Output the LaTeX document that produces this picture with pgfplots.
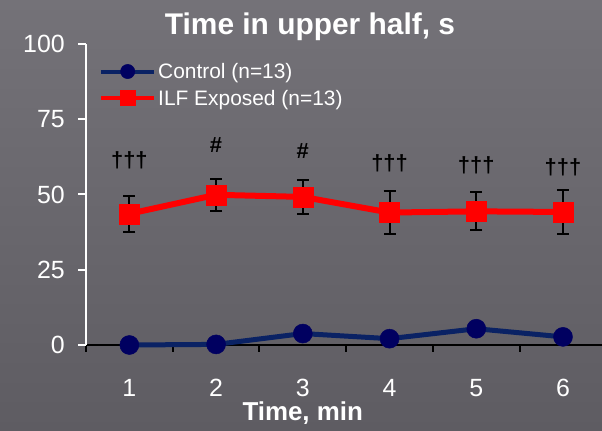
\documentclass[border=0pt]{standalone}
\usepackage{pgfplots}
\pgfplotsset{compat=1.18}
\usepackage{fontspec}
\setmainfont{Liberation Sans}
\definecolor{bgA}{RGB}{116,114,120}
\definecolor{bgB}{RGB}{94,92,98}
\definecolor{ctrlLine}{RGB}{10,34,100}
\definecolor{ctrlFill}{RGB}{0,0,96}
\begin{document}
\begin{tikzpicture}
\shade[shading angle=30, top color=bgA, bottom color=bgB] (0,0) rectangle (602bp,431bp);
\begin{axis}[
  at={(86bp,86bp)}, anchor=south west,
  scale only axis, width=516bp, height=301bp,
  xmin=0.5, xmax=6.45, ymin=0, ymax=100,
  clip=false,
  axis x line=bottom, axis y line=left,
  x axis line style={black, line width=2.5bp, -},
  y axis line style={white, line width=2.5bp, -},
  tick align=outside,
  ytick={0,25,50,75,100},
  y tick style={white, line width=2bp},
  major tick length=8bp,
  xtick={1,2,3,4,5,6},
  major x tick style={draw=none},
  minor xtick={0.5,1.5,2.5,3.5,4.5,5.5},
  minor x tick style={black, line width=2bp},
  minor tick length=7bp,
  /pgf/number format/assume math mode=true,
  yticklabel style={font=\fontsize{25}{30}\selectfont, text=white, inner sep=2bp, xshift=-11bp},
  xticklabel style={font=\fontsize{25}{30}\selectfont, text=white, yshift=-23bp},
  xlabel={Time, min},
  x label style={font=\bfseries\fontsize{26}{30}\selectfont, text=white, at={(axis description cs:0.42,0)}, anchor=center, yshift=-68bp},
  title={Time in upper half, s},
  title style={font=\bfseries\fontsize{30}{34}\selectfont, text=white, at={(axis description cs:0.434,1)}, anchor=center, yshift=11bp},
  legend style={draw=none, fill=none, at={(axis description cs:0,1)}, anchor=north west, xshift=10bp, yshift=-15bp,
    font=\fontsize{21}{25}\selectfont, text=white, row sep=6bp, nodes={inner sep=2bp}},
  legend cell align=left,
  legend image code/.code={\draw[mark repeat=2,mark phase=2,#1, line width=4bp, every mark/.append style={scale=0.75}] plot coordinates {(0bp,0bp) (26.5bp,0bp) (53bp,0bp)};},
]
\addplot[ctrlLine, line width=5bp, mark=*, mark size=9.5bp, mark options={fill=ctrlFill, draw=ctrlFill, line width=0.5bp}]
  coordinates {(1,0) (2,0.2) (3,3.8) (4,2.1) (5,5.4) (6,2.7)};
\addlegendentry{Control (n=13)}
\addplot[forget plot, draw=none, mark=none,
  error bars/.cd, y dir=both, y explicit,
  error bar style={black, line width=2bp},
  error mark options={black, line width=2bp, mark size=6bp, rotate=90}]
  coordinates {(1,43.6) +- (0,5.9) (2,49.9) +- (0,5.3) (3,49.2) +- (0,5.6) (4,44.0) +- (0,7.0) (5,44.4) +- (0,6.3) (6,44.2) +- (0,7.4)};
\addplot[red, line width=6bp, mark=square*, mark size=10bp, mark options={fill=red, draw=red, line width=0.5bp}]
  coordinates {(1,43.6) (2,49.9) (3,49.2) (4,44.0) (5,44.4) (6,44.2)};
\addlegendentry{ILF Exposed (n=13)}
\addplot[forget plot, only marks, mark=none, nodes near coords, point meta=explicit symbolic,
  nodes near coords style={anchor=center, text=black, font=\bfseries\fontsize{22}{24}\selectfont}]
  coordinates {(1,61.5) [†††] (2,66.3) [\#] (3,64.6) [\#] (4,60.4) [†††] (5,59.7) [†††] (6,59.1) [†††]};
\end{axis}
\pgfresetboundingbox
\path (0,0) rectangle (602bp,431bp);
\end{tikzpicture}
\end{document}
